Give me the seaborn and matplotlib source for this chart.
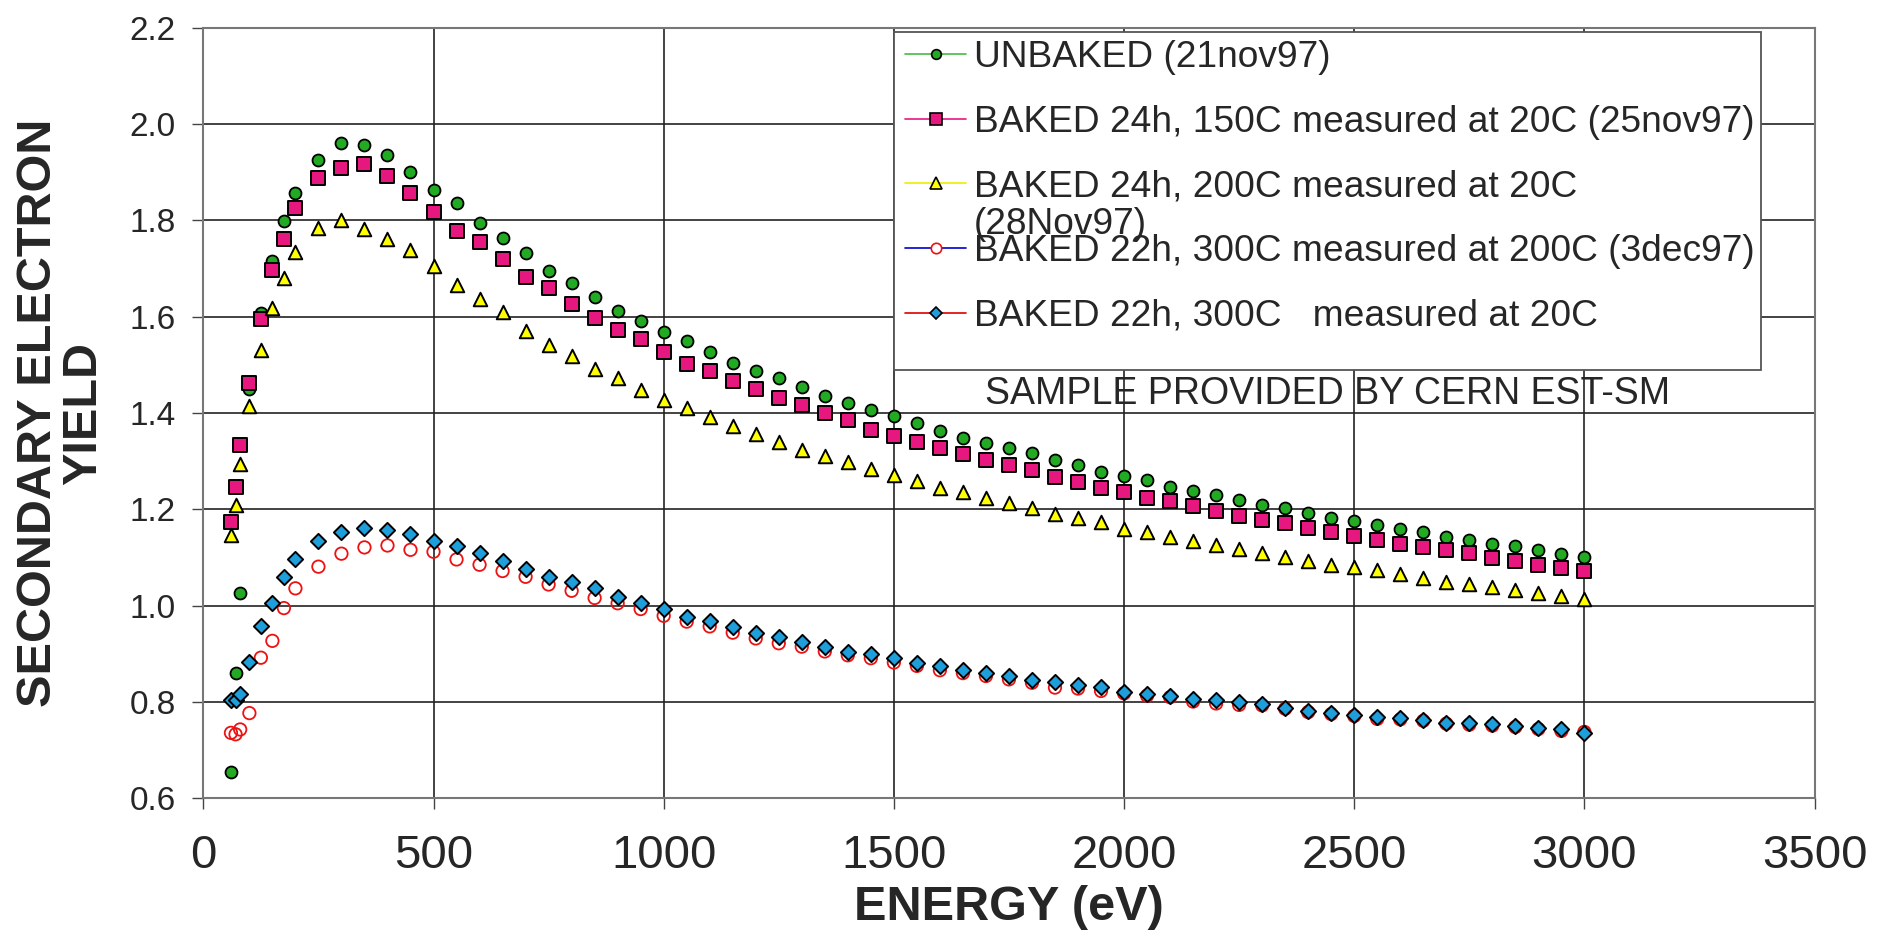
import pandas as pd
import matplotlib.pyplot as plt
import seaborn as sns
from matplotlib.lines import Line2D
from matplotlib.patches import Rectangle

# energies (eV)
energy = [60, 70, 80, 100, 125, 150, 175, 200, 250, 300, 350, 400, 450, 500,
          550, 600, 650, 700, 750, 800, 850, 900, 950, 1000, 1050, 1100, 1150,
          1200, 1250, 1300, 1350, 1400, 1450, 1500, 1550, 1600, 1650, 1700,
          1750, 1800, 1850, 1900, 1950, 2000, 2050, 2100, 2150, 2200, 2250,
          2300, 2350, 2400, 2450, 2500, 2550, 2600, 2650, 2700, 2750, 2800,
          2850, 2900, 2950, 3000]

unbaked = [0.655, 0.861, 1.026, 1.449, 1.607, 1.716, 1.799, 1.856, 1.926, 1.960,
           1.956, 1.936, 1.900, 1.863, 1.836, 1.794, 1.764, 1.732, 1.694, 1.670,
           1.640, 1.611, 1.592, 1.569, 1.549, 1.527, 1.504, 1.488, 1.472, 1.455,
           1.435, 1.421, 1.407, 1.393, 1.379, 1.363, 1.349, 1.338, 1.328, 1.317,
           1.303, 1.292, 1.278, 1.269, 1.260, 1.247, 1.238, 1.229, 1.220, 1.209,
           1.202, 1.193, 1.183, 1.175, 1.168, 1.159, 1.152, 1.143, 1.136, 1.129,
           1.123, 1.116, 1.107, 1.101]

baked_150 = [1.174, 1.247, 1.333, 1.462, 1.595, 1.697, 1.761, 1.825, 1.888, 1.909,
             1.918, 1.892, 1.856, 1.818, 1.778, 1.756, 1.719, 1.683, 1.659, 1.627,
             1.598, 1.572, 1.553, 1.526, 1.501, 1.488, 1.467, 1.450, 1.431, 1.417,
             1.401, 1.386, 1.364, 1.352, 1.340, 1.328, 1.315, 1.303, 1.292, 1.281,
             1.267, 1.256, 1.244, 1.237, 1.224, 1.217, 1.207, 1.196, 1.186, 1.177,
             1.171, 1.162, 1.153, 1.145, 1.136, 1.129, 1.121, 1.116, 1.109, 1.100,
             1.092, 1.085, 1.079, 1.073]

baked_200 = [1.146, 1.208, 1.295, 1.415, 1.531, 1.617, 1.681, 1.735, 1.785, 1.801,
             1.782, 1.761, 1.739, 1.705, 1.665, 1.636, 1.609, 1.571, 1.541, 1.519,
             1.492, 1.472, 1.447, 1.427, 1.410, 1.392, 1.373, 1.357, 1.340, 1.323,
             1.311, 1.298, 1.283, 1.271, 1.259, 1.245, 1.237, 1.223, 1.213, 1.202,
             1.190, 1.182, 1.173, 1.160, 1.154, 1.143, 1.135, 1.125, 1.117, 1.110,
             1.102, 1.093, 1.085, 1.080, 1.074, 1.065, 1.058, 1.049, 1.044, 1.038,
             1.032, 1.026, 1.020, 1.013]

baked_300_hot = [0.736, 0.733, 0.743, 0.777, 0.892, 0.927, 0.995, 1.036, 1.081, 1.108,
                 1.121, 1.125, 1.116, 1.112, 1.096, 1.085, 1.072, 1.060, 1.044, 1.031,
                 1.016, 1.005, 0.993, 0.979, 0.967, 0.957, 0.944, 0.932, 0.922, 0.915,
                 0.905, 0.897, 0.891, 0.882, 0.875, 0.866, 0.860, 0.854, 0.847, 0.840,
                 0.830, 0.828, 0.823, 0.818, 0.813, 0.810, 0.801, 0.797, 0.794, 0.793,
                 0.786, 0.779, 0.775, 0.771, 0.765, 0.764, 0.761, 0.755, 0.753, 0.751,
                 0.748, 0.744, 0.740, 0.738]

baked_300_cold = [0.804, 0.804, 0.817, 0.884, 0.958, 1.005, 1.060, 1.096, 1.135, 1.153,
                  1.161, 1.157, 1.148, 1.135, 1.124, 1.110, 1.093, 1.077, 1.060, 1.049,
                  1.036, 1.019, 1.005, 0.994, 0.977, 0.968, 0.955, 0.943, 0.934, 0.925,
                  0.915, 0.904, 0.899, 0.891, 0.882, 0.875, 0.866, 0.860, 0.854, 0.846,
                  0.842, 0.835, 0.832, 0.821, 0.817, 0.812, 0.807, 0.804, 0.799, 0.796,
                  0.788, 0.781, 0.777, 0.774, 0.768, 0.767, 0.763, 0.757, 0.756, 0.754,
                  0.750, 0.747, 0.745, 0.736]

labels = ['UNBAKED (21nov97)',
          'BAKED 24h, 150C measured at 20C (25nov97)',
          'BAKED 24h, 200C measured at 20C',
          'BAKED 22h, 300C measured at 200C (3dec97)',
          'BAKED 22h, 300C   measured at 20C']

x_ticks = [0, 500, 1000, 1500, 2000, 2500, 3000, 3500]
y_ticks = [0.6, 0.8, 1.0, 1.2, 1.4, 1.6, 1.8, 2.0, 2.2]

df = pd.DataFrame({'energy': energy, 'unbaked': unbaked, 'b150': baked_150,
                   'b200': baked_200, 'b300h': baked_300_hot, 'b300c': baked_300_cold})

sns.set_style('whitegrid')
plt.rcParams['font.family'] = ['Liberation Sans', 'DejaVu Sans']

fig = plt.figure(figsize=(18.88, 9.32), dpi=100)
ax = fig.add_axes([0.1077, 0.1434, 0.8534, 0.8269])

green = '#22AA22'
pink = '#E6177F'
yellow = '#FFFF00'
blue = '#1E9FDC'
red = '#EE1111'

sns.scatterplot(data=df, x='energy', y='unbaked', marker='o', s=74, color=green,
                edgecolor='black', linewidth=1.3, ax=ax, zorder=3)
sns.scatterplot(data=df, x='energy', y='b150', marker='s', s=95, color=pink,
                edgecolor='black', linewidth=1.4, ax=ax, zorder=3)
sns.scatterplot(data=df, x='energy', y='b200', marker='^', s=95, color=yellow,
                edgecolor='black', linewidth=1.4, ax=ax, zorder=3)
sns.scatterplot(data=df, x='energy', y='b300h', marker='o', s=80, facecolor='none',
                edgecolor=red, linewidth=1.3, ax=ax, zorder=3)
sns.scatterplot(data=df, x='energy', y='b300c', marker='D', s=60, color=blue,
                edgecolor='black', linewidth=1.4, ax=ax, zorder=3)

ax.set_xlim(0, 3500)
ax.set_ylim(0.6, 2.2)
ax.set_xticks(x_ticks)
ax.set_xticklabels([str(t) for t in x_ticks])
ax.set_yticks(y_ticks)
ax.set_yticklabels([f'{t:.1f}' for t in y_ticks])
ax.grid(True, color='#222222', linewidth=1.2)
for sp in ax.spines.values():
    sp.set_color('#777777')
    sp.set_linewidth(1.5)

ax.tick_params(axis='x', labelsize=34, pad=18, length=8, width=1, color='#444444', bottom=True)
ax.tick_params(axis='y', labelsize=24, pad=12, length=8, width=1, color='#444444', left=True)

ax.set_xlabel('ENERGY (eV)', fontsize=35, fontweight='bold')
ax.xaxis.set_label_coords(0.5, -0.113)
ax.set_ylabel('SECONDARY ELECTRON\nYIELD', fontsize=35, fontweight='bold', linespacing=1.0)
ax.yaxis.set_label_coords(-0.0605, 0.5)

ax.text(2443, 1.44, 'SAMPLE PROVIDED BY CERN EST-SM', ha='center', va='center', fontsize=27)

# legend box
ax.add_patch(Rectangle((0.4287, 0.5554), 0.5381, 0.4394, transform=ax.transAxes,
                       facecolor='white', edgecolor='#555555', linewidth=1.3, zorder=4))

handles = [
    Line2D([], [], color='#44BB44', lw=1.2, marker='o', ms=7, mfc=green, mec='black', mew=1.2),
    Line2D([], [], color=pink, lw=1.2, marker='s', ms=8, mfc=pink, mec='black', mew=1.2),
    Line2D([], [], color='#EEEE00', lw=1.2, marker='^', ms=8, mfc=yellow, mec='black', mew=1.2),
    Line2D([], [], color='#0000CC', lw=1.2, marker='o', ms=7.5, mfc='white', mec=red, mew=1.2),
    Line2D([], [], color='#DD0000', lw=1.2, marker='D', ms=6.5, mfc=blue, mec='black', mew=1.2),
]
leg = ax.legend(handles, labels, loc='upper left', bbox_to_anchor=(0.4355, 0.984),
                frameon=False, fontsize=26.7, handlelength=1.65, handletextpad=0.2,
                labelspacing=0.80, borderpad=0, borderaxespad=0)
leg.set_zorder(5)

ax.annotate('(28Nov97)', xy=(0, 0.5), xycoords=leg.get_texts()[2], xytext=(0, -27.4),
            textcoords='offset points', ha='left', va='center', fontsize=26.7, zorder=6)

fig.canvas.draw()
plt.savefig('out.png', dpi=100)
plt.close()
